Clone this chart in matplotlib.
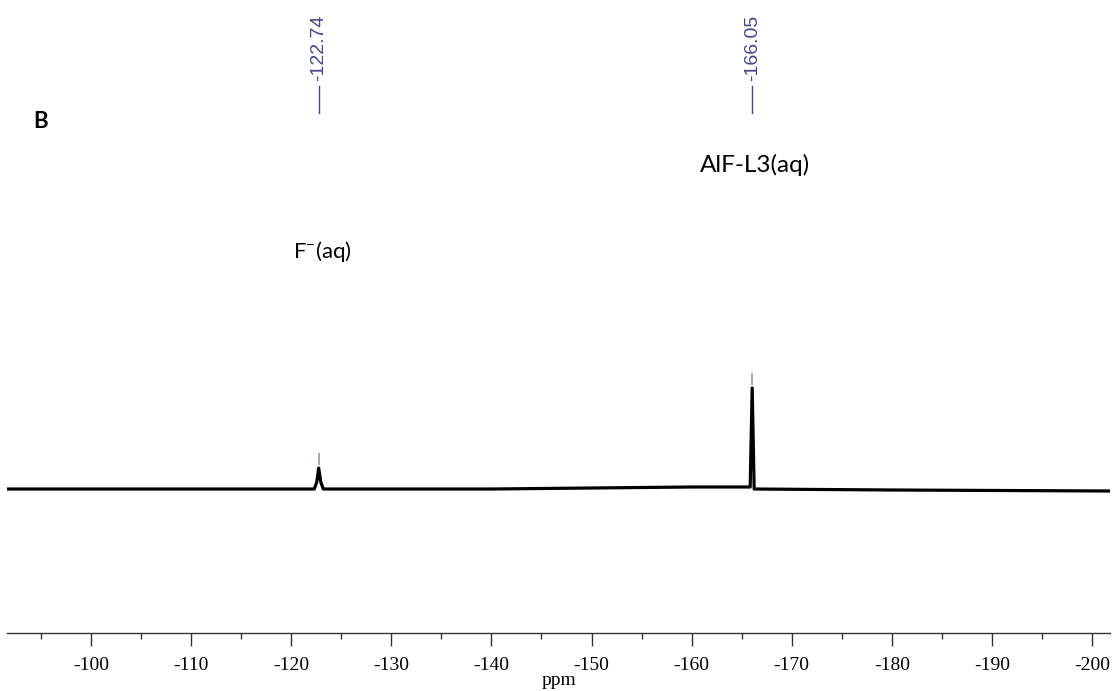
import matplotlib
matplotlib.use("Agg")
import matplotlib.pyplot as plt
from matplotlib.transforms import blended_transform_factory

plt.rcParams['mathtext.default'] = 'regular'
plt.rcParams['axes.unicode_minus'] = False

# spectrum knots (ppm, relative intensity)
ppm = [-91.6, -110.0, -122.3, -122.55, -122.74, -122.95, -123.2, -140.0,
       -160.0, -165.85, -166.05, -166.25, -180.0, -201.8]
intensity = [0.0, 0.0, 0.0, 0.07, 0.21, 0.07, 0.0, 0.0,
             0.02, 0.02, 1.01, 0.0, -0.01, -0.02]

peak_ppm = [-122.74, -166.05]
peak_height = [0.21, 1.01]
peak_labels = ['-122.74', '-166.05']

species = ['F$^{-}$(aq)', 'AlF-L3(aq)']

W, H = 1117, 691
fig = plt.figure(figsize=(W / 100, H / 100), dpi=100)
ax = fig.add_axes([7 / W, (H - 633) / H, (1110 - 7) / W, 633 / H])

ax.plot(ppm, intensity, color='black', lw=2.3)

# peak picking marks just above each peak
ax.vlines(peak_ppm, [h + 0.03 for h in peak_height], [h + 0.15 for h in peak_height],
          color='#9a9ab0', lw=1.2)

ax.set_xlim(-91.6, -201.8)
ax.set_ylim(-1.44, 4.89)

for s in ['top', 'right', 'left']:
    ax.spines[s].set_visible(False)
ax.spines['bottom'].set_color('#333333')
ax.spines['bottom'].set_linewidth(1.0)
ax.set_yticks([])

ax.set_xticks(range(-100, -201, -10))
ax.set_xticks(range(-95, -201, -10), minor=True)
ax.tick_params(axis='x', which='major', length=9, width=1.0, color='#333333',
               pad=8, labelsize=14)
ax.tick_params(axis='x', which='minor', length=4, width=1.0, color='#333333')
for lab in ax.get_xticklabels():
    lab.set_family('Liberation Serif')
ax.set_xlabel('ppm', family='Liberation Serif', fontsize=14, labelpad=-1)

# peak values along the top, with short connector lines
trans = blended_transform_factory(ax.transData, fig.transFigure)
for x, lab in zip(peak_ppm, peak_labels):
    ax.plot([x, x], [(H - 113) / H, (H - 86) / H], color='#45458a', lw=1.0,
            transform=trans, clip_on=False)
    ax.text(x, (H - 81) / H, lab, rotation=90, ha='center', va='bottom',
            color='#45458a', fontsize=14, family='Liberation Sans',
            transform=trans)

fig.text(33 / W, (H - 128) / H, 'B', fontsize=16, fontweight='bold',
         family='Lato', ha='left', va='baseline')
fig.text(293 / W, (H - 258) / H, species[0], fontsize=16, family='Lato',
         ha='left', va='baseline')
fig.text(700 / W, (H - 172) / H, species[1], fontsize=17.5, family='Lato',
         ha='left', va='baseline')

fig.savefig('out.png', dpi=100, facecolor='white')
